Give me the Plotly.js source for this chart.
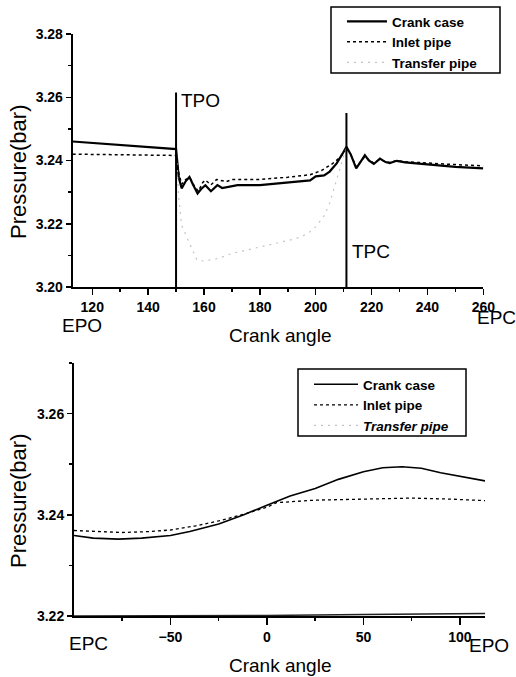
<!DOCTYPE html>
<html><head><meta charset="utf-8">
<script src="https://cdn.plot.ly/plotly-3.0.1.min.js"></script>
<style>html,body{margin:0;padding:0;background:#fff}#chart{width:516px;height:677px}</style>
</head><body><div id="chart"></div>
<script>
// ---- Top panel (exhaust/transfer phase) ----
const topCrankX = [113,150,151,152,153.5,154.8,156,157.7,159,160.5,162.5,164.8,166.5,168,170,172,180,190,198,200,203,205,207.5,209.5,211,212.5,214.5,216,217.6,219,220.8,223,225,226.5,229,232,240,250,260];
const topCrankY = [3.2460,3.2436,3.2345,3.2312,3.2335,3.2348,3.2325,3.2296,3.2310,3.2322,3.2303,3.2322,3.2313,3.2316,3.2320,3.2322,3.2322,3.2330,3.2337,3.2350,3.2353,3.2365,3.2391,3.2420,3.2443,3.2420,3.2375,3.2395,3.2417,3.2400,3.2389,3.2406,3.2395,3.2392,3.2399,3.2394,3.2388,3.2380,3.2375];
const topInletX = [113,150,151,152,153.5,155,156.5,158,159.5,160.5,162.5,164.5,166,168,170,180,190,198,202,206,209,211,212.5,214.5,216,217.6,219,220.8,223,225,226.5,229,232,240,250,260];
const topInletY = [3.2420,3.2416,3.2360,3.2325,3.2340,3.2345,3.2320,3.2303,3.2330,3.2338,3.2323,3.2340,3.2337,3.2333,3.2340,3.2340,3.2347,3.2355,3.2368,3.2390,3.2412,3.2440,3.2420,3.2380,3.2395,3.2413,3.2402,3.2392,3.2404,3.2396,3.2394,3.2400,3.2396,3.2391,3.2387,3.2383];
const topTransferX = [150,151,152,153.5,155,156.5,157.5,160,165,170,176,182,188,193,197,200,203,205,206.5,208,209.5,211];
const topTransferY = [3.2436,3.2280,3.2195,3.2165,3.2137,3.2105,3.2085,3.2082,3.2090,3.2106,3.2118,3.2132,3.2142,3.2153,3.2168,3.2190,3.2225,3.2265,3.2310,3.2355,3.2400,3.2443];
const portAngles = [150, 211];
const portTops = [3.2615, 3.2550];
const portLabels = ['TPO', 'TPC'];
const portLabelY = [3.2591, 3.2113];

// ---- Bottom panel (closed phase) ----
const botCrankX = [-100,-90,-77,-65,-50,-40,-25,-12,0,12,25,37,50,60,70,80,90,100,113];
const botCrankY = [3.2359,3.2354,3.2352,3.2354,3.2359,3.2367,3.2382,3.2400,3.2419,3.2437,3.2452,3.2470,3.2485,3.2493,3.2495,3.2492,3.2483,3.2476,3.2467];
const botInletX = [-100,-85,-75,-60,-50,-37,-25,-12,0,5,15,25,50,75,95,113];
const botInletY = [3.2369,3.2366,3.2365,3.2367,3.2370,3.2378,3.2388,3.2401,3.2415,3.2424,3.2427,3.2429,3.2431,3.2433,3.2431,3.2428];
const botTransferX = [-100,0,50,113];
const botTransferY = [3.2200,3.2201,3.2203,3.2205];

const seriesNames = ['Crank case', 'Inlet pipe', 'Transfer pipe'];
const topXTicks = [120,140,160,180,200,220,240,260];
const botXTicks = [-50,0,50,100];
const botXMinor = [-75,-25,25,75];

const F = 'Liberation Sans, Arial, sans-serif';
const tickFont = {family: F, size: 14, color: '#000', weight: 'bold'};
const transferLine = {color: '#c4c4c4', width: 1.2, dash: '2px,5px'};

const traces = [
  {x: topCrankX, y: topCrankY, name: seriesNames[0], mode: 'lines', line: {color: '#000', width: 2.2}, xaxis: 'x', yaxis: 'y', legend: 'legend'},
  {x: topInletX, y: topInletY, name: seriesNames[1], mode: 'lines', line: {color: '#000', width: 1.5, dash: 'dot'}, xaxis: 'x', yaxis: 'y', legend: 'legend'},
  {x: topTransferX, y: topTransferY, name: seriesNames[2], mode: 'lines', line: transferLine, xaxis: 'x', yaxis: 'y', legend: 'legend'},
  {x: botCrankX, y: botCrankY, name: seriesNames[0], mode: 'lines', line: {color: '#000', width: 1.6}, xaxis: 'x2', yaxis: 'y2', legend: 'legend2'},
  {x: botInletX, y: botInletY, name: seriesNames[1], mode: 'lines', line: {color: '#000', width: 1.3, dash: 'dot'}, xaxis: 'x2', yaxis: 'y2', legend: 'legend2'},
  {x: botTransferX, y: botTransferY, name: '<i>' + seriesNames[2] + '</i>', mode: 'lines', line: {color: '#222', width: 1.5}, xaxis: 'x2', yaxis: 'y2', legend: 'legend2', showlegend: false},
  {x: [null], y: [null], name: '<i>' + seriesNames[2] + '</i>', mode: 'lines', line: transferLine, xaxis: 'x2', yaxis: 'y2', legend: 'legend2'}
];

const axisCommon = {showline: true, linecolor: '#000', linewidth: 2, ticks: 'outside', ticklen: 5, tickwidth: 1.5, tickcolor: '#000', showgrid: false, zeroline: false, mirror: false, tickfont: tickFont, fixedrange: true};

const shapes = portAngles.map((a, i) => ({type: 'line', xref: 'x', yref: 'y', x0: a, x1: a, y0: 3.20, y1: portTops[i], line: {color: '#000', width: 2}}));
// legend frames
const box = (x0, y0, x1, y1) => ({type: 'rect', xref: 'paper', yref: 'paper', x0: x0 / 516, x1: x1 / 516, y0: 1 - y1 / 677, y1: 1 - y0 / 677, line: {color: '#000', width: 1.5}, fillcolor: 'rgba(0,0,0,0)'});
shapes.push(box(331, 7, 500, 73));
shapes.push(box(298, 369, 466, 436));

const annotations = [];
portAngles.forEach((a, i) => annotations.push({xref: 'x', yref: 'y', x: a + 2.3, y: portLabelY[i], text: portLabels[i], showarrow: false, xanchor: 'left', yanchor: 'middle', xshift: -3, font: {family: F, size: 19, color: '#000'}}));
const txt = (x, y, t, opts) => Object.assign({xref: 'paper', yref: 'paper', x: x / 516, y: 1 - y / 677, text: t, showarrow: false, xanchor: 'center', yanchor: 'middle', font: {family: F, size: 19, color: '#000'}}, opts || {});
annotations.push(txt(82, 325, 'EPO'));
annotations.push(txt(496, 317, 'EPC'));
annotations.push(txt(280, 335, 'Crank angle'));
annotations.push(txt(18, 172, 'Pressure(bar)', {textangle: -90, font: {family: F, size: 22, color: '#000'}}));
annotations.push(txt(88, 643, 'EPC'));
annotations.push(txt(489, 645, 'EPO'));
annotations.push(txt(280, 665, 'Crank angle'));
annotations.push(txt(18, 501, 'Pressure(bar)', {textangle: -90, font: {family: F, size: 22, color: '#000'}}));

const legendCommon = {xanchor: 'left', yanchor: 'top', borderwidth: 0, bgcolor: 'rgba(0,0,0,0)', itemwidth: 40, tracegroupgap: 0, font: {family: F, size: 13.5, color: '#000', weight: 'bold'}};

const layout = {
  width: 516, height: 677,
  margin: {l: 0, r: 0, t: 0, b: 0},
  paper_bgcolor: '#fff', plot_bgcolor: '#fff',
  showlegend: true,
  xaxis: Object.assign({}, axisCommon, {domain: [72.7/516, 483.3/516], range: [113, 260], tickmode: 'array', tickvals: topXTicks, anchor: 'y', ticklen: 6, minor: {dtick: 10, tick0: 120, ticks: 'outside', ticklen: 3, tickcolor: '#000'}}),
  yaxis: Object.assign({}, axisCommon, {domain: [1 - 287/677, 1 - 34/677], range: [3.20, 3.28], tick0: 3.20, dtick: 0.02, tickformat: '.2f', anchor: 'x', minor: {dtick: 0.01, tick0: 3.20, ticks: 'outside', ticklen: 3, tickcolor: '#000'}}),
  xaxis2: Object.assign({}, axisCommon, {domain: [74/516, 485/516], range: [-100, 113], tickmode: 'array', tickvals: botXTicks, anchor: 'y2', ticklen: 7, minor: {tickmode: 'array', tickvals: botXMinor, ticks: 'outside', ticklen: 3, tickcolor: '#000'}}),
  yaxis2: Object.assign({}, axisCommon, {domain: [1 - 616/677, 1 - 363/677], range: [3.22, 3.27], tick0: 3.22, dtick: 0.02, tickformat: '.2f', anchor: 'x2', minor: {dtick: 0.01, tick0: 3.22, ticks: 'outside', ticklen: 3, tickcolor: '#000'}}),
  legend: Object.assign({}, legendCommon, {x: 342/516, y: 1 - 6/677}),
  legend2: Object.assign({}, legendCommon, {x: 309/516, y: 1 - 369/677, itemwidth: 44}),
  shapes: shapes,
  annotations: annotations
};

Plotly.newPlot('chart', traces, layout, {staticPlot: true, displayModeBar: false});
</script>
</body></html>
